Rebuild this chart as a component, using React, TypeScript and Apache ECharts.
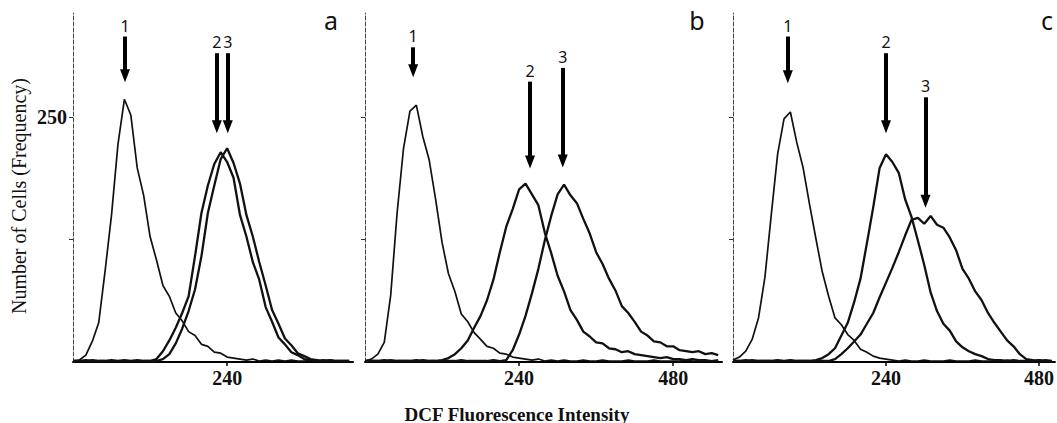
import React, { useEffect, useRef } from "react";
import * as echarts from "echarts";

// bin positions (DCF fluorescence channel)
const channels = [
  0, 10, 20, 30, 40, 50, 60, 70, 80, 90, 100, 110, 120, 130, 140, 150, 160, 170, 180, 190,
  200, 210, 220, 230, 240, 250, 260, 270, 280, 290, 300, 310, 320, 330, 340, 350, 360, 370,
  380, 390, 400, 410, 420, 430, 440, 450, 460, 470, 480, 490, 500, 510, 520, 530, 540, 550,
];

// panel a
const a1 = [1,2,7,21,40,93,150,222,268,252,198,170,128,104,78,67,50,42,31,27,18,16,10,9,5,4,3,2,3,1,2,1,2,1,2,1,1,2,1,1,2,1,1,1];
const a2 = [1,1,2,1,1,1,2,1,1,1,2,1,1,3,11,22,35,50,67,108,152,180,202,214,204,188,150,128,102,84,56,41,25,18,10,7,3,2,1,2,1,1,1,1];
const a3 = [1,1,1,2,1,1,1,1,2,1,1,1,1,1,3,8,19,34,52,74,108,152,180,207,218,203,182,150,128,102,78,53,39,24,17,9,6,3,2,1,2,1,1,1];
// panel b
const b1 = [1,3,8,20,68,152,218,256,262,230,206,166,122,90,72,49,41,30,23,16,14,9,8,5,4,3,2,3,1,2,1,2,1,1,2,1,1,2,1,1,1,2,1,1,1,2,1,1,1,1,2,1,1,1,1,1];
const b2 = [1,1,1,2,1,1,1,1,2,1,1,1,2,4,8,14,22,35,47,63,84,112,138,156,176,182,171,160,132,111,88,72,53,43,31,26,20,19,14,13,10,11,8,7,6,5,4,5,3,3,2,3,2,2,1,2];
const b3 = [1,1,1,1,2,1,1,1,1,2,1,1,1,1,1,2,1,1,1,1,2,1,2,12,28,47,70,95,124,149,171,181,170,162,146,131,112,100,85,73,57,50,41,31,27,21,20,16,16,12,11,10,11,8,9,7];
// panel c
const c1 = [2,5,11,23,45,86,150,212,248,255,224,198,161,126,92,67,45,38,28,22,13,10,6,4,3,2,1,2,1,1,2,1,1,1,2,1,1,1,2,1,1,1,1,2,1,1,1,1,2,1,1];
const c2 = [1,1,2,1,1,1,1,2,1,1,1,1,1,2,4,8,14,27,40,61,85,121,158,198,212,204,193,166,148,124,99,71,52,39,32,21,15,11,8,6,3,2,2,1,2,1,1,1,2,1,1];
const c3 = [1,1,1,2,1,1,1,1,1,2,1,1,1,1,1,1,3,8,14,21,28,39,50,66,81,96,112,129,145,147,141,149,140,137,127,114,95,85,72,63,50,40,31,22,16,8,3,2,1,2,1];

const panelLetters = ["a", "b", "c"];
const xMax = [436, 556, 505];
const xTickValues = [[240], [240, 480], [240, 480]];
const yTickValues = [125, 250];
const yLabelValues = [250];
const yMax = 356;

// arrows: [label, x, top, tip]
const arrowsA: [string, number, number, number][] = [["1", 81, 332, 292], ["2", 224, 315, 240], ["3", 241, 315, 240]];
const arrowsB: [string, number, number, number][] = [["1", 75, 321, 297], ["2", 257, 286, 204], ["3", 308, 300, 205]];
const arrowsC: [string, number, number, number][] = [["1", 86, 332, 291], ["2", 240, 315, 240], ["3", 302, 270, 164]];

const pair = (vals: number[]) => vals.map((v, i) => [channels[i], v]);

export default function App() {
  const ref = useRef<HTMLDivElement>(null);
  useEffect(() => {
    if (!ref.current) return;
    const chart = echarts.init(ref.current, null, { renderer: "svg" });
    const grids = [
      { left: 73, top: 13, width: 280, height: 349 },
      { left: 365, top: 13, width: 357, height: 349 },
      { left: 733, top: 13, width: 324, height: 349 },
    ];
    const serif = "Liberation Serif";
    const xAxes = grids.map((_, i) => ({
      type: "value",
      gridIndex: i,
      min: 0,
      max: xMax[i],
      splitLine: { show: false },
      axisLine: { show: true, onZero: false, lineStyle: { color: "#000", width: 2 } },
      axisTick: { show: true, length: 4, customValues: xTickValues[i], lineStyle: { color: "#000", width: 1.5 } },
      axisLabel: {
        show: true,
        customValues: xTickValues[i],
        margin: 6,
        fontFamily: serif,
        fontWeight: "bold",
        fontSize: 20,
        color: "#111",
      },
    }));
    const yAxes = grids.map((_, i) => ({
      type: "value",
      gridIndex: i,
      min: 0,
      max: yMax,
      splitLine: { show: false },
      axisLine: { show: true, lineStyle: { color: "#444", width: 1, type: [4, 2] } },
      axisTick: { show: true, length: 4, customValues: yTickValues, lineStyle: { color: "#333" } },
      axisLabel: {
        show: i === 0,
        customValues: yLabelValues,
        margin: 6,
        fontFamily: serif,
        fontWeight: "bold",
        fontSize: 20,
        color: "#111",
      },
    }));
    const curves = [[a1, a2, a3], [b1, b2, b3], [c1, c2, c3]];
    const arrows = [arrowsA, arrowsB, arrowsC];
    const series: any[] = [];
    curves.forEach((group, gi) => {
      group.forEach((vals, si) => {
        const s: any = {
          type: "line",
          xAxisIndex: gi,
          yAxisIndex: gi,
          data: pair(vals),
          showSymbol: false,
          symbol: "none",
          lineStyle: { color: "#111", width: si === 0 ? 1.7 : 2.3 },
          silent: true,
        };
        if (si === 0) {
          s.markLine = {
            silent: true,
            symbol: ["none", "triangle"],
            symbolSize: [10, 13],
            lineStyle: { color: "#000", width: 4, type: "solid" },
            label: {
              show: true,
              position: "start",
              formatter: "{b}",
              fontFamily: "Noto Sans",
              fontSize: 16,
              color: "#111",
              distance: 3,
            },
            data: arrows[gi].map(([name, x, top, tip]) => [
              { name, coord: [x, top] },
              { coord: [x, tip] },
            ]),
          };
        }
        series.push(s);
      });
    });
    const letterX = [331, 697, 1047];
    chart.setOption({
      animation: false,
      grid: grids,
      xAxis: xAxes,
      yAxis: yAxes,
      series,
      graphic: [
        ...panelLetters.map((t, i) => ({
          type: "text",
          x: letterX[i],
          y: 20,
          style: {
            text: t,
            fontFamily: "Noto Sans",
            fontSize: 25,
            fill: "#111",
            textAlign: "center",
            textVerticalAlign: "middle",
          },
        })),
        {
          type: "text",
          x: 19,
          y: 196,
          rotation: Math.PI / 2,
          style: {
            text: "Number of Cells (Frequency)",
            fontFamily: serif,
            fontSize: 20,
            fill: "#111",
            textAlign: "center",
            textVerticalAlign: "middle",
          },
        },
        {
          type: "text",
          x: 517,
          y: 414,
          style: {
            text: "DCF Fluorescence Intensity",
            fontFamily: serif,
            fontWeight: "bold",
            fontSize: 19,
            fill: "#111",
            textAlign: "center",
            textVerticalAlign: "middle",
          },
        },
      ],
    });
    return () => chart.dispose();
  }, []);
  return (
    <div
      ref={ref}
      style={{ position: "fixed", left: 0, top: 0, width: 1057, height: 423, background: "#fff" }}
    />
  );
}
